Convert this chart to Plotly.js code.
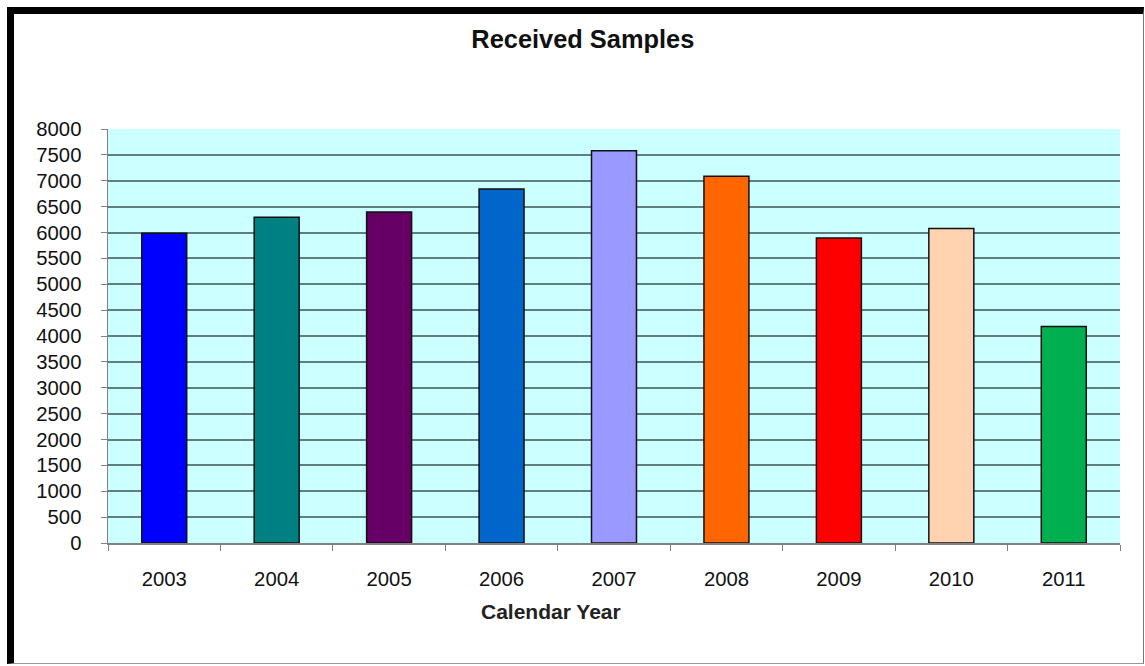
<!DOCTYPE html>
<html>
<head>
<meta charset="utf-8">
<script src="https://cdn.plot.ly/plotly-3.0.1.min.js"></script>
<style>
  html, body { margin: 0; padding: 0; background: #fff; }
  #frame { position: absolute; left: 7px; top: 7px; width: 1129px; height: 649px;
           border-left: 7px solid #000; border-top: 7px solid #000;
           border-right: 1px solid #777; border-bottom: 1px solid #999; background: #fff; }
  #chart { position: absolute; left: 0; top: 0; width: 1145px; height: 666px; }
</style>
</head>
<body>
<div id="frame"></div>
<div id="chart"></div>
<script>
const years = ["2003", "2004", "2005", "2006", "2007", "2008", "2009", "2010", "2011"];
const samples = [5985, 6295, 6395, 6840, 7580, 7085, 5895, 6075, 4185];
const barColors = ["#0000FF", "#008080", "#660066", "#0066CC", "#9999FF", "#FF6600", "#FF0000", "#FFD3B0", "#00B050"];
const yTicks = [0, 500, 1000, 1500, 2000, 2500, 3000, 3500, 4000, 4500, 5000, 5500, 6000, 6500, 7000, 7500, 8000];
const chartTitle = "Received Samples";
const xTitle = "Calendar Year";

const trace = {
  type: "bar",
  x: years,
  y: samples,
  marker: { color: barColors, line: { color: "#111", width: 1.5 } },
  hoverinfo: "x+y"
};

const FONT = "Liberation Sans, Arial, sans-serif";

const layout = {
  width: 1145, height: 666,
  margin: { l: 108, r: 25, t: 129, b: 123 },
  paper_bgcolor: "rgba(0,0,0,0)",
  plot_bgcolor: "#CCFFFF",
  bargap: 0.6,
  showlegend: false,
  font: { family: FONT, color: "#111", size: 18 },
  title: { text: "<b>" + chartTitle + "</b>", font: { size: 25.4, family: FONT, color: "#111" },
           x: 0.509, xanchor: "center", y: 0.9408, yanchor: "middle" },
  annotations: [{
    text: "<b>" + xTitle + "</b>", xref: "paper", yref: "paper",
    x: 0.438, y: -0.165, xanchor: "center", yanchor: "middle",
    showarrow: false, font: { size: 21, family: FONT, color: "#222" }
  }],
  xaxis: {
    type: "category",
    showline: true, linecolor: "#808080", linewidth: 1.5,
    ticks: "outside", ticklen: 6, tickcolor: "#808080", tickson: "boundaries",
    ticklabelstandoff: 17,
    showgrid: false, zeroline: false,
    tickfont: { size: 20.3, family: FONT, color: "#111" }
  },
  yaxis: {
    range: [0, 8000],
    tickvals: yTicks, ticktext: yTicks.map(String),
    showline: true, linecolor: "#808080", linewidth: 1.5,
    ticks: "outside", ticklen: 6, tickcolor: "#808080",
    ticklabelstandoff: 15,
    showgrid: true, gridcolor: "#5F7F7F", gridwidth: 2,
    zeroline: false,
    tickfont: { size: 20.3, family: FONT, color: "#111" }
  }
};

Plotly.newPlot("chart", [trace], layout, { displayModeBar: false, staticPlot: true });
</script>
</body>
</html>
